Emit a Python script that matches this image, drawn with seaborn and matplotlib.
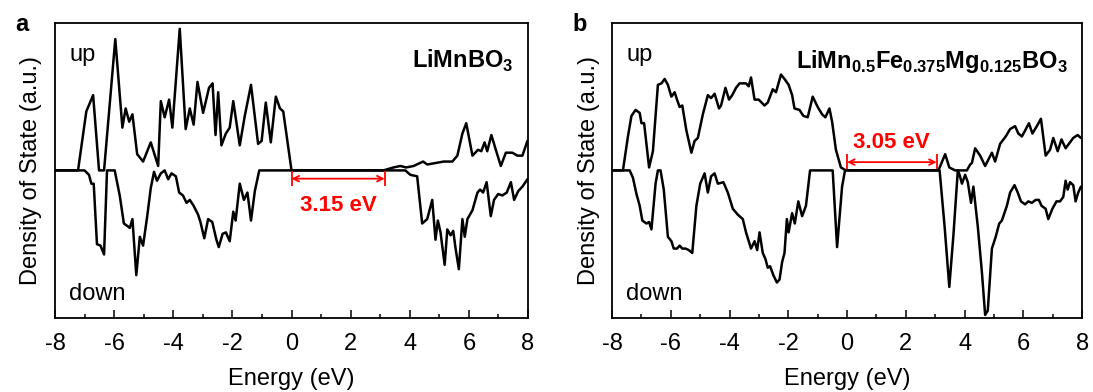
import matplotlib
matplotlib.use("Agg")
import matplotlib.pyplot as plt
import seaborn as sns
from matplotlib.ticker import MultipleLocator

# Panel a: LiMnBO3
a_up_e = [-8, -7.22, -6.94, -6.71, -6.51, -6.34, -5.96, -5.72, -5.61, -5.49, -5.38, -5.22, -5.02, -4.76,
          -4.51, -4.42, -4.29, -4.14, -4.03, -3.78, -3.58, -3.44, -3.31, -3.18, -2.99, -2.79, -2.67, -2.57,
          -2.48, -2.37, -2.22, -2.09, -1.97, -1.75, -1.58, -1.37, -1.13, -1.01, -0.87, -0.70, -0.53, -0.39,
          -0.28, 0, 3.11, 3.45, 3.68, 3.88, 4.13, 4.45, 4.59, 4.87, 5.15, 5.44, 5.61, 5.78, 5.91, 6.12, 6.31,
          6.42, 6.53, 6.62, 6.76, 6.91, 7.08, 7.25, 7.47, 7.64, 7.81, 7.98]
a_up_v = [0, 0, .40, .51, 0, 0, .89, .29, .42, .33, .38, .11, .06, .19, .03, .47, .36, .48, .29, .96, .28,
          .42, .31, .60, .39, .56, .59, .24, .53, .17, .25, .29, .47, .17, .37, .58, .18, .20, .46, .19, .50,
          .42, .40, 0, 0, .02, .03, .02, .03, .06, .04, .05, .06, .06, .10, .25, .32, .10, .14, .13, .19, .13,
          .24, .14, .03, .12, .12, .10, .10, .20]
a_dn_e = [-8, -7.0, -6.85, -6.77, -6.69, -6.58, -6.46, -6.34, -6.24, -5.98, -5.81, -5.67, -5.53, -5.47, -5.38,
          -5.25, -5.13, -5.02, -4.88, -4.76, -4.65, -4.55, -4.42, -4.29, -4.17, -4.06, -3.91, -3.80, -3.67,
          -3.55, -3.44, -3.31, -3.16, -3.08, -2.95, -2.82, -2.68, -2.54, -2.46, -2.33, -2.22, -2.09, -1.97,
          -1.89, -1.75, -1.61, -1.49, -1.37, -1.24, -1.09, 3.85, 4.02, 4.25, 4.42, 4.59, 4.76, 4.87, 4.95,
          5.04, 5.18, 5.27, 5.38, 5.47, 5.55, 5.66, 5.78, 5.86, 5.95, 6.12, 6.29, 6.38, 6.48, 6.60, 6.74,
          6.85, 6.99, 7.13, 7.28, 7.42, 7.53, 7.67, 7.81, 7.98]
a_dn_v = [0, 0, -.03, -.09, -.09, -.50, -.51, -.57, 0, 0, -.17, -.36, -.38, -.39, -.33, -.71, -.45, -.51,
          -.31, -.12, -.01, -.07, -.02, 0, -.06, -.02, -.04, -.15, -.17, -.22, -.20, -.24, -.30, -.35, -.46,
          -.33, -.35, -.47, -.52, -.43, -.42, -.48, -.28, -.34, -.09, -.20, -.15, -.34, -.14, 0, 0, -.03,
          -.04, -.36, -.33, -.20, -.47, -.34, -.42, -.64, -.40, -.44, -.41, -.53, -.67, -.33, -.45, -.33,
          -.27, -.15, -.13, -.15, -.08, -.31, -.20, -.16, -.17, -.15, -.08, -.20, -.14, -.11, -.06]

# Panel b: LiMn0.5Fe0.375Mg0.125BO3
b_up_e = [-8, -7.63, -7.46, -7.34, -7.20, -7.06, -7.00, -6.91, -6.74, -6.61, -6.44, -6.32, -6.21, -6.10,
          -5.98, -5.87, -5.79, -5.70, -5.61, -5.47, -5.30, -5.19, -5.08, -4.91, -4.74, -4.63, -4.51, -4.36,
          -4.29, -4.14, -4.02, -3.91, -3.78, -3.66, -3.44, -3.35, -3.27, -3.15, -3.01, -2.81, -2.70, -2.53,
          -2.42, -2.25, -2.13, -1.99, -1.87, -1.79, -1.62, -1.49, -1.34, -1.17, -1.00, -0.85, -0.74, -0.60,
          -0.51, -0.38, -0.21, -0.04, 3.11, 3.34, 3.48, 3.68, 4.08, 4.19, 4.25, 4.36, 4.53, 4.70, 4.93, 5.04,
          5.21, 5.40, 5.55, 5.72, 5.83, 5.95, 6.06, 6.19, 6.31, 6.46, 6.60, 6.76, 6.91, 7.02, 7.17, 7.30,
          7.44, 7.55, 7.70, 7.85, 7.96]
b_up_v = [0, 0, .23, .37, .41, .39, .32, .32, .02, .13, .58, .59, .62, .58, .50, .53, .48, .43, .44, .27,
          .12, .20, .22, .38, .51, .49, .52, .42, .44, .56, .48, .51, .56, .59, .59, .57, .63, .48, .48, .44,
          .46, .55, .53, .65, .62, .58, .51, .42, .41, .37, .36, .50, .43, .38, .36, .42, .33, .14, .02, 0,
          0, .11, .02, 0, 0, .04, .05, .15, .10, .03, .12, .06, .18, .23, .28, .30, .25, .23, .27, .32, .25,
          .30, .35, .10, .14, .22, .13, .21, .15, .18, .22, .24, .22]
b_dn_e = [-8, -7.40, -7.29, -7.17, -7.06, -6.97, -6.83, -6.74, -6.66, -6.52, -6.44, -6.35, -6.24, -6.10,
          -5.98, -5.90, -5.79, -5.70, -5.61, -5.50, -5.39, -5.27, -5.13, -5.00, -4.85, -4.74, -4.63, -4.51,
          -4.40, -4.21, -4.06, -3.89, -3.72, -3.55, -3.44, -3.27, -3.15, -3.06, -2.98, -2.87, -2.78, -2.70,
          -2.62, -2.51, -2.39, -2.30, -2.21, -2.13, -2.05, -1.99, -1.87, -1.78, -1.66, -1.53, -1.40, -1.26,
          -0.49, -0.34, -0.17, -0.07, 3.15, 3.32, 3.48, 3.62, 3.77, 3.83, 3.91, 4.02, 4.11, 4.22, 4.30, 4.45,
          4.59, 4.70, 4.79, 4.93, 5.06, 5.18, 5.27, 5.44, 5.55, 5.70, 5.81, 5.92, 6.06, 6.17, 6.29, 6.42,
          6.53, 6.62, 6.76, 6.85, 6.99, 7.13, 7.25, 7.36, 7.44, 7.51, 7.59, 7.70, 7.78, 7.87, 7.96]
b_dn_v = [0, 0, -.05, -.16, -.24, -.34, -.36, -.35, -.40, -.09, 0, 0, -.13, -.45, -.48, -.53, -.53, -.51,
          -.53, -.53, -.54, -.56, -.24, -.09, -.02, -.15, -.04, -.02, -.09, -.08, -.15, -.26, -.30, -.33,
          -.42, -.53, -.48, -.54, -.42, -.56, -.60, -.66, -.65, -.71, -.76, -.74, -.62, -.56, -.33, -.42,
          -.29, -.36, -.21, -.31, -.24, 0, 0, -.52, -.11, 0, 0, -.38, -.79, -.44, 0, -.03, -.09, -.03, -.08,
          -.22, -.11, -.38, -.69, -.98, -.95, -.53, -.45, -.36, -.34, -.24, -.15, -.10, -.15, -.21, -.23,
          -.21, -.22, -.20, -.20, -.24, -.26, -.33, -.26, -.21, -.21, -.18, -.07, -.13, -.08, -.10, -.21,
          -.15, -.11]

gap_a = 3.15
gap_b = 3.05
title_a = r"LiMnBO$_\mathbf{3}$"
title_b = r"LiMn$_\mathbf{0.5}$Fe$_\mathbf{0.375}$Mg$_\mathbf{0.125}$BO$_\mathbf{3}$"

sns.set_style("ticks")
plt.rcParams["font.family"] = ["Liberation Sans", "DejaVu Sans"]
plt.rcParams["mathtext.fontset"] = "custom"
plt.rcParams["mathtext.rm"] = "Liberation Sans"
plt.rcParams["mathtext.bf"] = "Liberation Sans:bold"
plt.rcParams["axes.unicode_minus"] = False
plt.rcParams["text.color"] = "black"
plt.rcParams["axes.labelcolor"] = "black"
plt.rcParams["xtick.color"] = "black"

fig = plt.figure(figsize=(10.93, 3.92), dpi=100)
ax_a = fig.add_axes([0.0503, 0.189, 0.4328, 0.7526])
ax_b = fig.add_axes([0.560, 0.189, 0.430, 0.7526])

panels = [
    (ax_a, a_up_e, a_up_v, a_dn_e, a_dn_v, gap_a, title_a, "a", "below"),
    (ax_b, b_up_e, b_up_v, b_dn_e, b_dn_v, gap_b, title_b, "b", "above"),
]

for ax, ue, uv, de, dv, gap, title, letter, where in panels:
    sns.lineplot(x=ue, y=uv, ax=ax, color="black", lw=1.8, estimator=None, sort=False)
    sns.lineplot(x=de, y=dv, ax=ax, color="black", lw=1.8, estimator=None, sort=False)
    ax.set_xlim(-8, 8)
    ax.set_ylim(-1, 1)
    ax.set_yticks([])
    ax.xaxis.set_major_locator(MultipleLocator(2))
    ax.xaxis.set_minor_locator(MultipleLocator(1))
    ax.tick_params(axis="x", which="major", direction="in", length=6, width=1.1,
                   labelsize=17, pad=11)
    ax.tick_params(axis="x", which="minor", direction="in", length=3, width=1.1)
    for s in ax.spines.values():
        s.set_linewidth(1.3)
        s.set_color("black")
    ax.set_xlabel("Energy (eV)", fontsize=17, labelpad=9)
    ax.set_ylabel("Density of State (a.u.)", fontsize=17, labelpad=9)
    ax.text(0.03, 0.89, "up", transform=ax.transAxes, fontsize=17, va="center")
    ax.text(0.03, 0.08, "down", transform=ax.transAxes, fontsize=17, va="center")
    ax.text(0.97, 0.87, title, transform=ax.transAxes, fontsize=17, fontweight="bold",
            ha="right", va="center")
    ax.text(-0.085, 0.995, letter, transform=ax.transAxes, fontsize=17, fontweight="bold",
            ha="left", va="center")

    if where == "below":
        ya, yb0, yb1, yt = -0.056, -0.005, -0.105, -0.24
    else:
        ya, yb0, yb1, yt = 0.056, 0.007, 0.108, 0.19
    ax.vlines([0, gap], yb0, yb1, color="red", lw=1.3)
    ax.annotate("", xy=(gap, ya), xytext=(0, ya),
                arrowprops=dict(arrowstyle="<->", color="red", lw=1.3,
                                shrinkA=0, shrinkB=0, mutation_scale=10))
    ax.text(gap / 2, yt, f"{gap:.2f} eV", color="red", fontsize=16, fontweight="bold",
            ha="center", va="center")

fig.savefig("out.png", dpi=100)
